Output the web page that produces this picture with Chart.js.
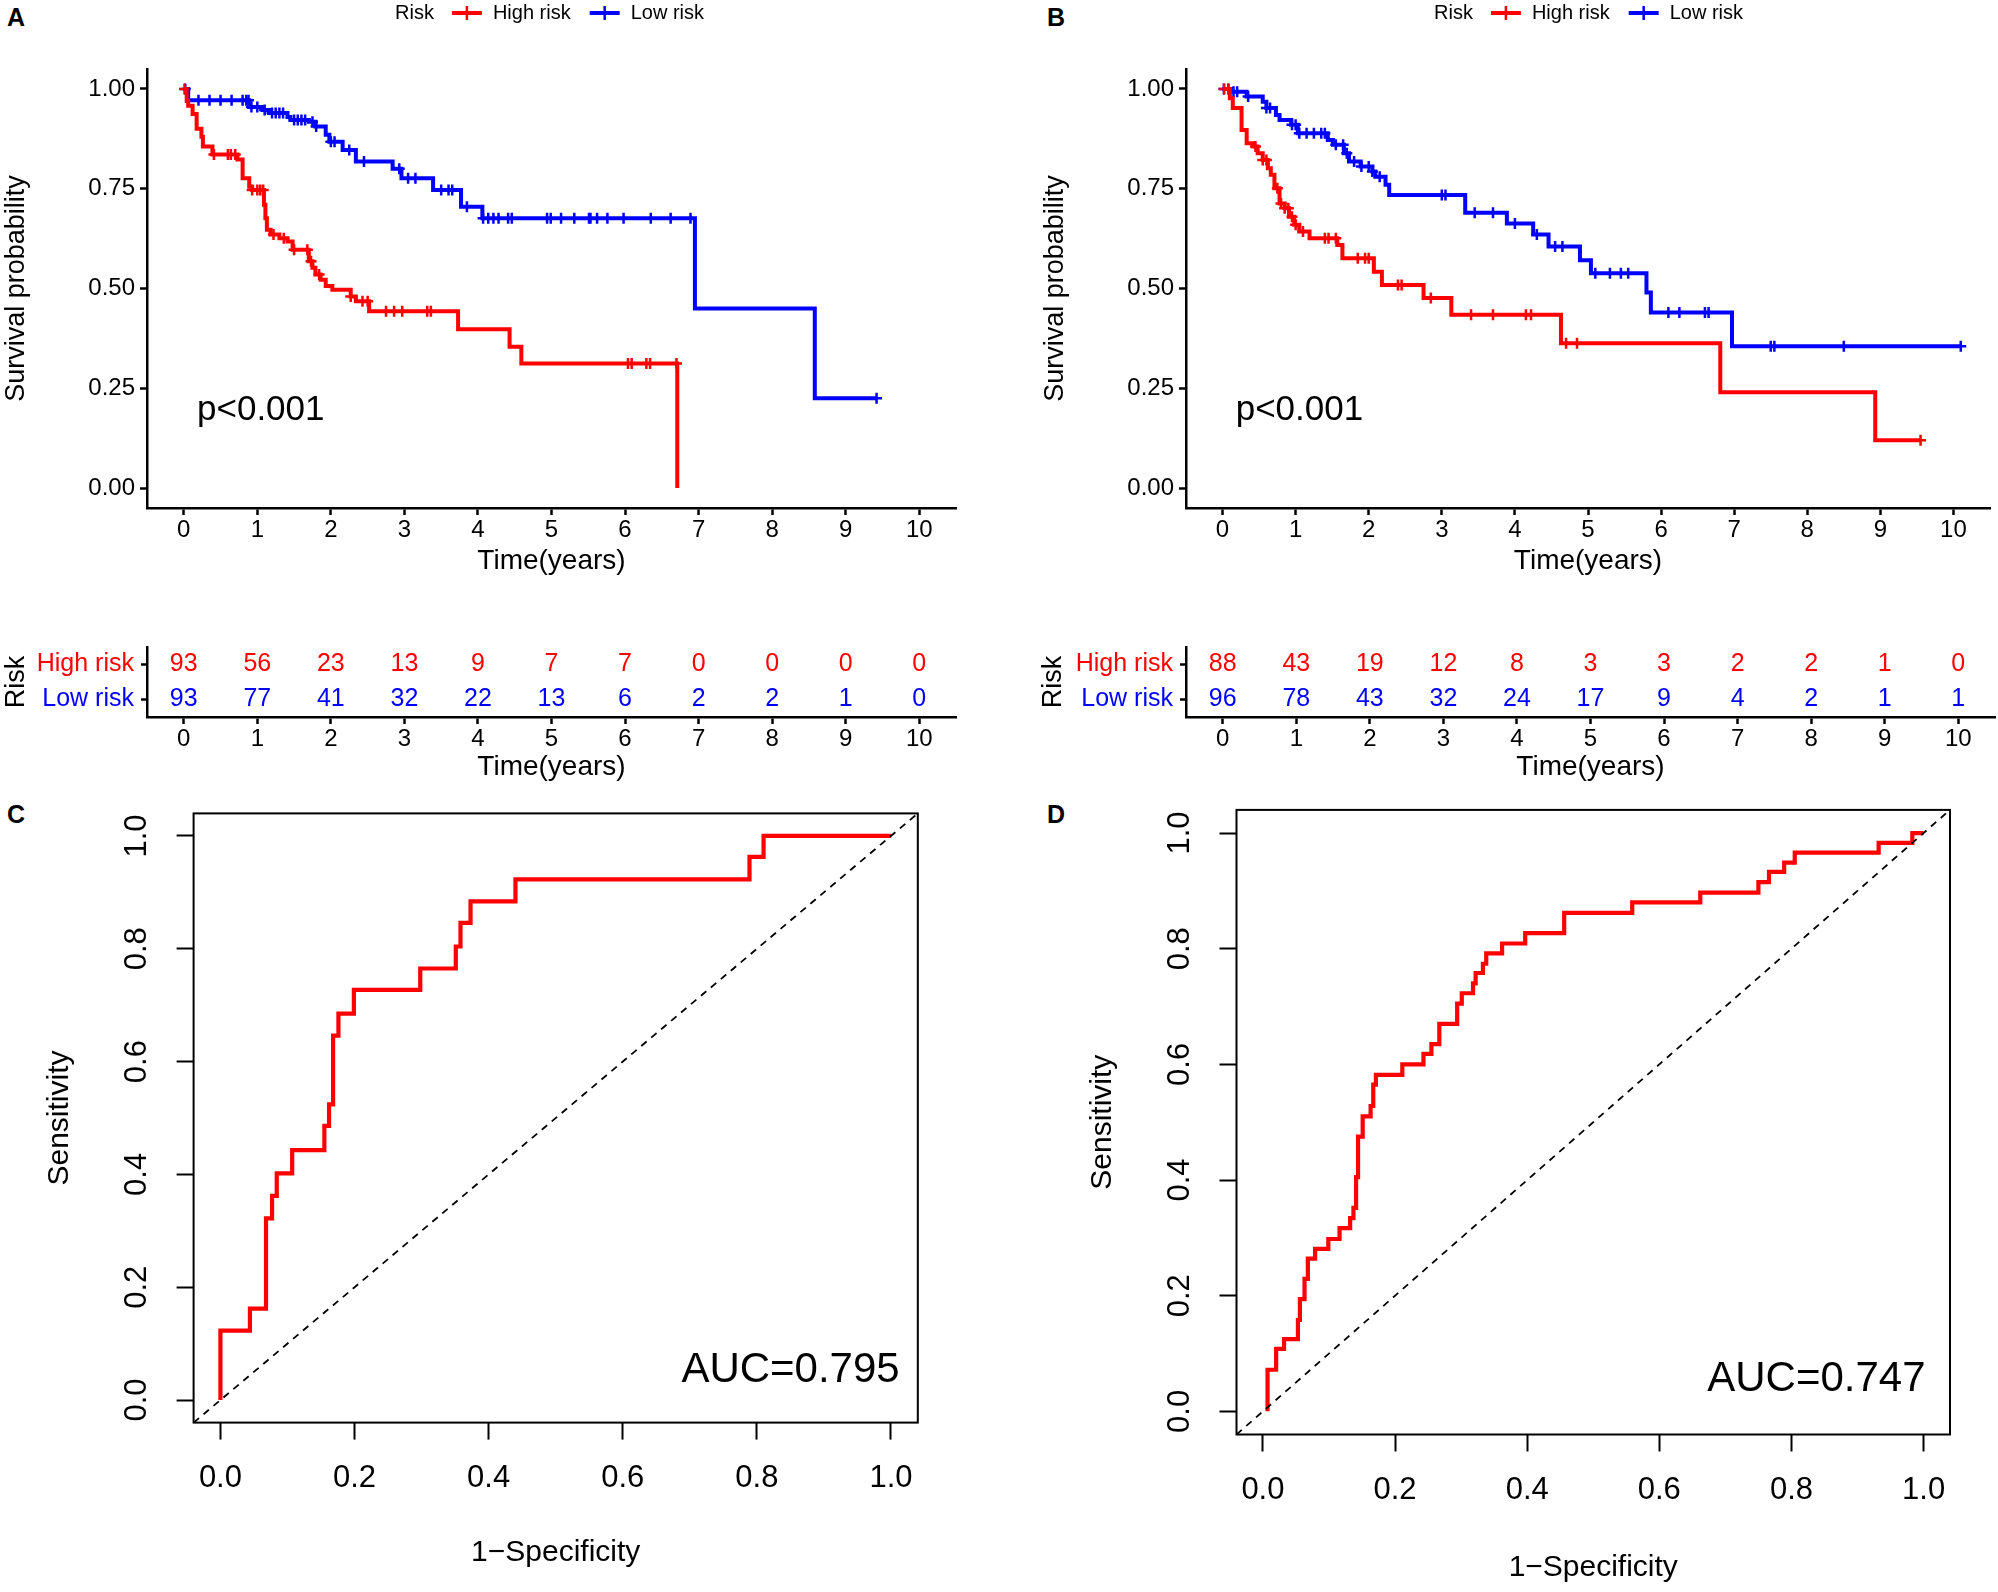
<!DOCTYPE html>
<html lang="en">
<head>
<meta charset="UTF-8" />
<title>Survival and ROC curves</title>
<script src="https://cdn.jsdelivr.net/npm/chart.js"></script>
<style>
  body { margin: 0; background: #fff; }
  #page { position: relative; width: 1998px; height: 1592px; overflow: hidden; background: #fff;
          font-family: 'Liberation Sans', Arial, Helvetica, sans-serif; }
  canvas { position: absolute; }
  .tag { position: absolute; font-weight: bold; font-size: 25px; line-height: 1; }
</style>
</head>
<body>
<div id="page">
  <div class="tag" style="left:7px;top:5px">A</div>
  <div class="tag" style="left:1047px;top:5px">B</div>
  <div class="tag" style="left:7px;top:802px">C</div>
  <div class="tag" style="left:1047px;top:802px">D</div>
  <canvas id="kmA"></canvas>
  <canvas id="kmB"></canvas>
  <canvas id="riskA"></canvas>
  <canvas id="riskB"></canvas>
  <canvas id="rocC"></canvas>
  <canvas id="rocD"></canvas>
</div>

<script>
// ---- data ----
const KM_X_TICKS = [0, 1, 2, 3, 4, 5, 6, 7, 8, 9, 10];
const KM_Y_TICKS = [0, 0.25, 0.5, 0.75, 1];
const RISK_GROUPS = ['High risk', 'Low risk'];
const RISK_TIMES = [0, 1, 2, 3, 4, 5, 6, 7, 8, 9, 10];

// panel A (training set)
const A_HIGH_T = [0, 0.04, 0.06, 0.12, 0.175, 0.24, 0.26, 0.39, 0.73, 0.8, 0.89, 0.93, 1.09, 1.11, 1.13, 1.18, 1.3, 1.41, 1.48, 1.7, 1.75, 1.79, 1.86, 1.93, 2.02, 2.27, 2.34, 2.52, 3.73, 4.43, 4.59, 6.71];
const A_HIGH_S = [1, 0.97, 0.958, 0.937, 0.9, 0.88, 0.856, 0.836, 0.823, 0.776, 0.755, 0.747, 0.71, 0.676, 0.647, 0.635, 0.626, 0.618, 0.597, 0.568, 0.552, 0.535, 0.522, 0.506, 0.497, 0.48, 0.468, 0.443, 0.398, 0.354, 0.312, 0];
const A_HIGH_CENSOR = [0.01, 0.41, 0.6, 0.64, 0.7, 0.93, 1.0, 1.04, 1.08, 1.22, 1.36, 1.5, 1.68, 1.73, 1.84, 2.27, 2.43, 2.5, 2.75, 2.86, 2.97, 3.31, 3.36, 6.04, 6.09, 6.29, 6.34, 6.7];
const A_LOW_T = [0, 0.06, 0.89, 1.07, 1.16, 1.41, 1.45, 1.7, 1.79, 1.93, 1.98, 2.16, 2.34, 2.84, 2.96, 3.39, 3.77, 4.06, 6.95, 8.58, 9.42];
const A_LOW_S = [1, 0.972, 0.955, 0.947, 0.94, 0.93, 0.922, 0.918, 0.906, 0.885, 0.868, 0.847, 0.818, 0.8, 0.776, 0.747, 0.705, 0.676, 0.45, 0.225, 0.225];
const A_LOW_CENSOR = [0.02, 0.2, 0.35, 0.5, 0.65, 0.8, 0.85, 0.88, 0.92, 1.0, 1.1, 1.2, 1.25, 1.3, 1.35, 1.5, 1.55, 1.6, 1.65, 1.75, 1.8, 2.0, 2.05, 2.25, 2.45, 2.93, 3.05, 3.15, 3.5, 3.6, 3.65, 3.85, 4.07, 4.14, 4.21, 4.28, 4.41, 4.46, 4.94, 4.99, 5.13, 5.31, 5.51, 5.53, 5.62, 5.76, 5.98, 6.35, 6.62, 6.89, 9.42];
const A_RISK_HIGH = [93, 56, 23, 13, 9, 7, 7, 0, 0, 0, 0];
const A_RISK_LOW = [93, 77, 41, 32, 22, 13, 6, 2, 2, 1, 0];

// panel B (test set)
const B_HIGH_T = [0, 0.1, 0.14, 0.26, 0.33, 0.42, 0.48, 0.55, 0.62, 0.66, 0.71, 0.78, 0.85, 0.91, 0.98, 1.05, 1.19, 1.57, 1.64, 2.07, 2.18, 2.75, 3.13, 4.63, 6.81, 8.93, 9.55];
const B_HIGH_S = [1, 0.977, 0.952, 0.897, 0.864, 0.856, 0.839, 0.822, 0.801, 0.785, 0.751, 0.713, 0.701, 0.68, 0.66, 0.643, 0.626, 0.609, 0.576, 0.542, 0.509, 0.476, 0.434, 0.363, 0.24, 0.12, 0.12];
const B_HIGH_CENSOR = [0.02, 0.08, 0.45, 0.55, 0.6, 0.75, 0.8, 0.85, 0.9, 0.95, 1.0, 1.1, 1.4, 1.45, 1.55, 1.85, 1.95, 2.0, 2.4, 2.45, 2.85, 3.4, 3.7, 4.15, 4.22, 4.7, 4.85, 9.55];
const B_LOW_T = [0, 0.12, 0.33, 0.55, 0.6, 0.73, 0.78, 0.94, 1.03, 1.44, 1.51, 1.66, 1.73, 1.89, 2.05, 2.09, 2.23, 2.28, 3.32, 3.89, 4.25, 4.46, 4.89, 5.04, 5.8, 5.86, 6.97, 10.1];
const B_LOW_S = [1, 0.993, 0.981, 0.968, 0.952, 0.935, 0.922, 0.91, 0.889, 0.872, 0.86, 0.839, 0.818, 0.806, 0.793, 0.78, 0.76, 0.734, 0.69, 0.663, 0.635, 0.605, 0.571, 0.538, 0.49, 0.44, 0.355, 0.355];
const B_LOW_CENSOR = [0.02, 0.08, 0.15, 0.2, 0.35, 0.6, 0.65, 0.95, 1.0, 1.05, 1.15, 1.25, 1.35, 1.4, 1.55, 1.65, 1.7, 1.8, 1.9, 2.0, 2.05, 2.15, 3.0, 3.05, 3.45, 3.7, 4.0, 4.3, 4.55, 4.65, 5.1, 5.3, 5.45, 5.55, 6.1, 6.25, 6.6, 6.65, 7.5, 7.55, 8.5, 10.1];
const B_RISK_HIGH = [88, 43, 19, 12, 8, 3, 3, 2, 2, 1, 0];
const B_RISK_LOW = [96, 78, 43, 32, 24, 17, 9, 4, 2, 1, 1];

// ROC curves (1-specificity, sensitivity)
const ROC_TICKS = [0, 0.2, 0.4, 0.6, 0.8, 1];
const DIAG = [-0.04, 1.04];
const C_FPR = [0, 0, 0.044, 0.068, 0.077, 0.084, 0.107, 0.155, 0.162, 0.168, 0.176, 0.199, 0.298, 0.351, 0.358, 0.373, 0.44, 0.789, 0.81, 1.0];
const C_TPR = [0, 0.123, 0.162, 0.322, 0.362, 0.402, 0.443, 0.486, 0.524, 0.646, 0.685, 0.727, 0.765, 0.804, 0.846, 0.884, 0.923, 0.963, 1.0, 1.0];
const C_AUC = 'AUC=0.795';
const D_FPR = [0.007, 0.007, 0.02, 0.032, 0.053, 0.056, 0.063, 0.068, 0.079, 0.099, 0.116, 0.132, 0.137, 0.141, 0.144, 0.151, 0.163, 0.167, 0.171, 0.211, 0.243, 0.255, 0.267, 0.294, 0.301, 0.318, 0.322, 0.333, 0.338, 0.362, 0.397, 0.456, 0.559, 0.662, 0.75, 0.766, 0.789, 0.805, 0.932, 0.983, 1.0];
const D_TPR = [0, 0.072, 0.108, 0.125, 0.158, 0.194, 0.229, 0.264, 0.281, 0.298, 0.317, 0.334, 0.352, 0.405, 0.475, 0.51, 0.528, 0.565, 0.582, 0.6, 0.618, 0.635, 0.67, 0.705, 0.723, 0.74, 0.758, 0.774, 0.792, 0.809, 0.827, 0.862, 0.88, 0.897, 0.915, 0.933, 0.949, 0.966, 0.983, 1.0, 1.0];
const D_AUC = 'AUC=0.747';

// ---- drawing ----
const FONT = "'Liberation Sans', Arial, Helvetica, sans-serif";
const RED = '#ff0000';
const BLUE = '#0000ff';
Chart.defaults.font.family = FONT;
Chart.defaults.color = '#000';

function survAt(T, S, t) {
  let v = S[0];
  for (let i = 0; i < T.length; i++) if (T[i] <= t) v = S[i];
  return v;
}

// put a chart on the page so that its plot area lands on the given rectangle
function place(id, box, area, cfg) {
  const cv = document.getElementById(id);
  cv.width = box.w; cv.height = box.h;
  cv.style.left = box.x + 'px'; cv.style.top = box.y + 'px';
  cv.style.width = box.w + 'px'; cv.style.height = box.h + 'px';
  cfg.options.responsive = false;
  cfg.options.animation = false;
  cfg.options.layout = { padding: { left: 0, bottom: 0, top: area.y0 - box.y, right: box.x + box.w - area.x1 } };
  cfg.options.scales.x.afterFit = s => { s.height = box.y + box.h - area.y1; };
  cfg.options.scales.y.afterFit = s => { s.width = area.x0 - box.x; };
  return new Chart(cv, cfg);
}

function axisLook(tl, lw, border) {
  return {
    grid: { drawOnChartArea: false, drawTicks: true, tickLength: tl, tickWidth: lw, tickColor: '#000', color: '#000' },
    border: { display: border, color: '#000', width: lw }
  };
}

function kmLegend(items) {
  return {
    id: 'kmLegend',
    afterDraw(chart) {
      const ctx = chart.ctx, y = 13;
      let x = chart.chartArea.left + 248;
      ctx.save();
      ctx.font = '20px ' + FONT;
      ctx.textBaseline = 'middle';
      ctx.textAlign = 'left';
      ctx.fillStyle = '#000';
      ctx.fillText('Risk', x, y);
      x += ctx.measureText('Risk').width + 18;
      items.forEach(it => {
        ctx.strokeStyle = it.color;
        ctx.lineWidth = 4;
        ctx.beginPath(); ctx.moveTo(x, y); ctx.lineTo(x + 30, y); ctx.stroke();
        ctx.lineWidth = 2.5;
        ctx.beginPath();
        ctx.moveTo(x + 15, y - 7); ctx.lineTo(x + 15, y + 7);
        ctx.moveTo(x + 8, y); ctx.lineTo(x + 22, y);
        ctx.stroke();
        x += 41;
        ctx.fillStyle = '#000';
        ctx.fillText(it.label, x, y);
        x += ctx.measureText(it.label).width + 19;
      });
      ctx.restore();
    }
  };
}

function pLabel(text, at) {
  return {
    id: 'pLabel',
    afterDatasetsDraw(chart) {
      const { ctx, scales: { x, y } } = chart;
      ctx.save();
      ctx.font = '35px ' + FONT;
      ctx.fillStyle = '#000';
      ctx.textAlign = 'left';
      ctx.textBaseline = 'middle';
      ctx.fillText(text, x.getPixelForValue(at[0]), y.getPixelForValue(at[1]));
      ctx.restore();
    }
  };
}

function kmChart(id, box, area, curves, yTitlePad) {
  const datasets = [];
  curves.forEach(c => datasets.push({
    type: 'line', label: c.label,
    data: c.t.map((t, i) => ({ x: t, y: c.s[i] })),
    stepped: 'before', borderColor: c.color, borderWidth: 4, pointRadius: 0, fill: false
  }));
  curves.forEach(c => datasets.push({
    type: 'scatter', label: c.label + ' (censored)',
    data: c.censor.map(t => ({ x: t, y: survAt(c.t, c.s, t) })),
    pointStyle: 'cross', pointRadius: 5.5, pointBorderWidth: 2.5,
    borderColor: c.color, backgroundColor: c.color
  }));
  return place(id, box, area, {
    type: 'scatter',
    data: { datasets },
    options: {
      plugins: { legend: { display: false }, tooltip: { enabled: false } },
      scales: {
        x: {
          type: 'linear', min: -0.5, max: 10.5,
          afterBuildTicks: s => { s.ticks = KM_X_TICKS.map(v => ({ value: v })); },
          ticks: { font: { size: 24 }, padding: 1, maxRotation: 0, autoSkip: false },
          title: { display: true, text: 'Time(years)', font: { size: 28 }, padding: { top: 0, bottom: 22 } },
          ...axisLook(7, 2.5, true)
        },
        y: {
          type: 'linear', min: -0.05, max: 1.05,
          afterBuildTicks: s => { s.ticks = KM_Y_TICKS.map(v => ({ value: v })); },
          ticks: { font: { size: 24 }, padding: 5, callback: v => Number(v).toFixed(2) },
          title: { display: true, text: 'Survival probability', font: { size: 27 }, padding: { top: yTitlePad, bottom: 0 } },
          ...axisLook(7, 2.5, true)
        }
      }
    },
    plugins: [kmLegend(curves.map(c => ({ label: c.label, color: c.color }))), pLabel('p<0.001', [0.18, 0.195])]
  });
}

const riskNumbers = {
  id: 'riskNumbers',
  afterDatasetsDraw(chart) {
    const ctx = chart.ctx;
    ctx.save();
    ctx.font = '25px ' + FONT;
    ctx.textAlign = 'center';
    ctx.textBaseline = 'middle';
    chart.data.datasets.forEach((ds, di) => {
      ctx.fillStyle = ds.textColor;
      chart.getDatasetMeta(di).data.forEach((pt, i) => ctx.fillText(String(ds.counts[i]), pt.x, pt.y));
    });
    ctx.restore();
  }
};

function riskChart(id, box, area, high, low, yTitlePad) {
  const colors = [RED, BLUE];
  const rows = [high, low];
  return place(id, box, area, {
    type: 'scatter',
    data: {
      datasets: rows.map((counts, r) => ({
        label: RISK_GROUPS[r],
        data: RISK_TIMES.map(t => ({ x: t, y: RISK_GROUPS[r] })),
        counts: counts, textColor: colors[r], pointRadius: 0
      }))
    },
    options: {
      plugins: { legend: { display: false }, tooltip: { enabled: false } },
      scales: {
        x: {
          type: 'linear', min: -0.5, max: 10.5,
          afterBuildTicks: s => { s.ticks = KM_X_TICKS.map(v => ({ value: v })); },
          ticks: { font: { size: 24 }, padding: 1, maxRotation: 0, autoSkip: false },
          title: { display: true, text: 'Time(years)', font: { size: 28 }, padding: { top: 0, bottom: 11 } },
          ...axisLook(7, 2.5, true)
        },
        y: {
          type: 'category', labels: RISK_GROUPS, offset: true,
          ticks: { font: { size: 25 }, padding: 7, color: c => colors[c.index] },
          title: { display: true, text: 'Risk', font: { size: 27 }, padding: { top: yTitlePad, bottom: 0 } },
          ...axisLook(6, 2.5, true)
        }
      }
    },
    plugins: [riskNumbers]
  });
}

function rocExtras(aucText, at) {
  return {
    id: 'rocExtras',
    afterDraw(chart) {
      const { ctx, chartArea: a, scales: { x, y } } = chart;
      ctx.save();
      ctx.strokeStyle = '#000';
      ctx.lineWidth = 2;
      ctx.strokeRect(a.left, a.top, a.right - a.left, a.bottom - a.top);
      ctx.fillStyle = '#000';
      ctx.font = '31px ' + FONT;
      ctx.textAlign = 'center';
      ctx.textBaseline = 'middle';
      y.ticks.forEach(t => {
        ctx.save();
        ctx.translate(a.left - 56, y.getPixelForValue(t.value));
        ctx.rotate(-Math.PI / 2);
        ctx.fillText(Number(t.value).toFixed(1), 0, 0);
        ctx.restore();
      });
      ctx.font = '42px ' + FONT;
      ctx.textAlign = 'right';
      ctx.fillText(aucText, x.getPixelForValue(at[0]), y.getPixelForValue(at[1]));
      ctx.restore();
    }
  };
}

function rocChart(id, box, area, fpr, tpr, aucText, aucAt, yTitlePad, xTitlePad) {
  return place(id, box, area, {
    type: 'scatter',
    data: {
      datasets: [
        { type: 'line', label: 'chance', data: DIAG.map(v => ({ x: v, y: v })),
          borderColor: '#000', borderWidth: 1.8, borderDash: [7, 6], pointRadius: 0, fill: false },
        { type: 'line', label: 'ROC', data: fpr.map((v, i) => ({ x: v, y: tpr[i] })),
          stepped: 'before', borderColor: RED, borderWidth: 4.2, pointRadius: 0, fill: false }
      ]
    },
    options: {
      plugins: { legend: { display: false }, tooltip: { enabled: false } },
      scales: {
        x: {
          type: 'linear', min: -0.04, max: 1.04,
          afterBuildTicks: s => { s.ticks = ROC_TICKS.map(v => ({ value: v })); },
          ticks: { font: { size: 31 }, padding: 20, maxRotation: 0, autoSkip: false, callback: v => Number(v).toFixed(1) },
          title: { display: true, text: '1\u2212Specificity', font: { size: 30 }, padding: { top: 0, bottom: xTitlePad } },
          ...axisLook(17, 2, false)
        },
        y: {
          type: 'linear', min: -0.04, max: 1.04,
          afterBuildTicks: s => { s.ticks = ROC_TICKS.map(v => ({ value: v })); },
          ticks: { display: false },
          title: { display: true, text: 'Sensitivity', font: { size: 30 }, padding: { top: yTitlePad, bottom: 0 } },
          ...axisLook(17, 2, false)
        }
      }
    },
    plugins: [rocExtras(aucText, aucAt)]
  });
}

kmChart('kmA', { x: 0, y: 0, w: 999, h: 600 }, { x0: 147, y0: 69, x1: 956, y1: 508 }, [
  { label: 'High risk', color: RED, t: A_HIGH_T, s: A_HIGH_S, censor: A_HIGH_CENSOR },
  { label: 'Low risk', color: BLUE, t: A_LOW_T, s: A_LOW_S, censor: A_LOW_CENSOR }
], 0);
kmChart('kmB', { x: 999, y: 0, w: 999, h: 600 }, { x0: 1186, y0: 69, x1: 1995, y1: 508 }, [
  { label: 'High risk', color: RED, t: B_HIGH_T, s: B_HIGH_S, censor: B_HIGH_CENSOR },
  { label: 'Low risk', color: BLUE, t: B_LOW_T, s: B_LOW_S, censor: B_LOW_CENSOR }
], 40);

riskChart('riskA', { x: 0, y: 625, w: 999, h: 170 }, { x0: 147, y0: 647, x1: 956, y1: 717 }, A_RISK_HIGH, A_RISK_LOW, 0);
riskChart('riskB', { x: 999, y: 625, w: 999, h: 170 }, { x0: 1186, y0: 647, x1: 1995, y1: 717 }, B_RISK_HIGH, B_RISK_LOW, 38);

rocChart('rocC', { x: 0, y: 780, w: 999, h: 812 }, { x0: 193.6, y0: 813.4, x1: 917.8, y1: 1422.6 },
  C_FPR, C_TPR, C_AUC, [1.013, 0.053], 42, 21);
rocChart('rocD', { x: 999, y: 780, w: 999, h: 812 }, { x0: 1236.5, y0: 809.9, x1: 1950, y1: 1434.5 },
  D_FPR, D_TPR, D_AUC, [1.003, 0.056], 86, 6);
</script>
</body>
</html>
